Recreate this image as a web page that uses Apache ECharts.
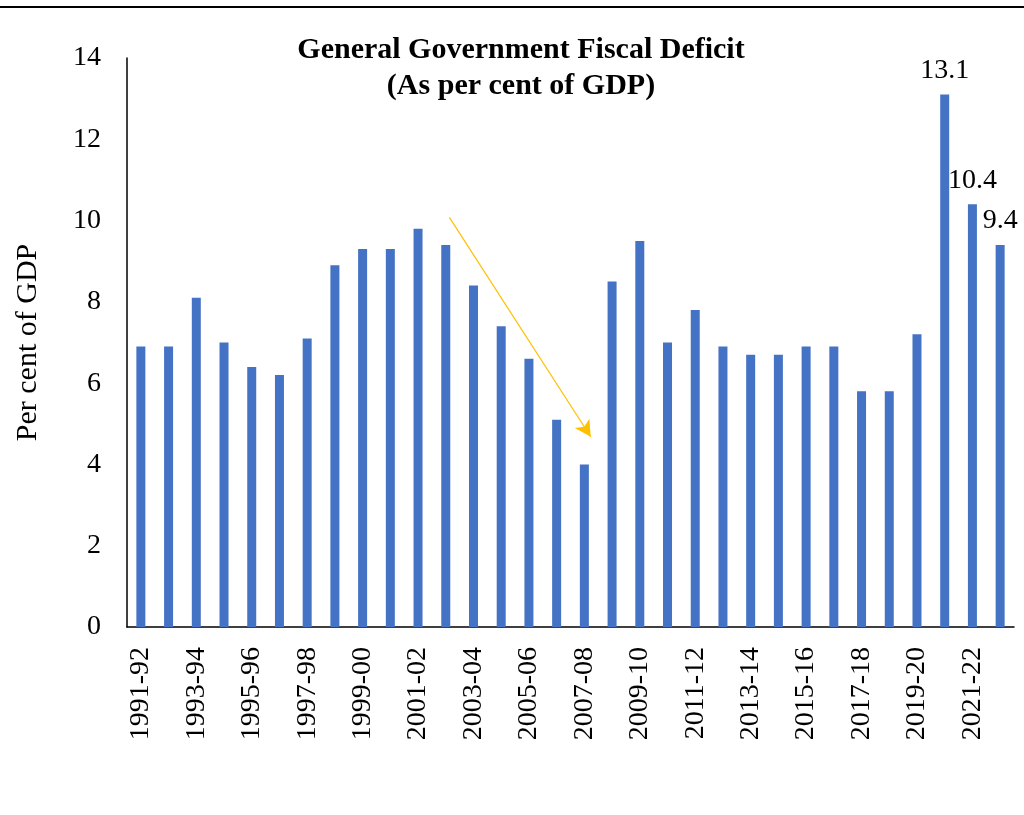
<!DOCTYPE html>
<html>
<head>
<meta charset="utf-8">
<script src="https://cdn.jsdelivr.net/npm/echarts@6/dist/echarts.min.js"></script>
<style>
  html, body { margin: 0; padding: 0; background: #fff; }
  #chart { width: 1024px; height: 815px; }
</style>
</head>
<body>
<div id="chart"></div>
<script>
// Fiscal years shown on the category axis
const years = [
  '1991-92','1992-93','1993-94','1994-95','1995-96','1996-97','1997-98','1998-99',
  '1999-00','2000-01','2001-02','2002-03','2003-04','2004-05','2005-06','2006-07',
  '2007-08','2008-09','2009-10','2010-11','2011-12','2012-13','2013-14','2014-15',
  '2015-16','2016-17','2017-18','2018-19','2019-20','2020-21','2021-22','2022-23'
];

// General government fiscal deficit, per cent of GDP
const deficit = [
  6.9, 6.9, 8.1, 7.0, 6.4, 6.2, 7.1, 8.9,
  9.3, 9.3, 9.8, 9.4, 8.4, 7.4, 6.6, 5.1,
  4.0, 8.5, 9.5, 7.0, 7.8, 6.9, 6.7, 6.7,
  6.9, 6.9, 5.8, 5.8, 7.2, 13.1, 10.4, 9.4
];

// Years whose value is written above the bar
const labelledYears = ['2020-21', '2021-22', '2022-23'];

// Value-axis ticks
const yTicks = [0, 2, 4, 6, 8, 10, 12, 14];

// Trend arrow, as (category position, value); category positions run 0..31
const arrowStart = [11.13, 10.08];
const arrowEnd = [16.23, 4.68];

const serif = '"Liberation Serif", "Times New Roman", serif';

const chart = echarts.init(document.getElementById('chart'), null, { renderer: 'canvas' });

const barData = deficit.map((v, i) => {
  const item = { value: v };
  if (labelledYears.includes(years[i])) {
    item.label = {
      show: true,
      position: 'top',
      offset: [0, -5],
      formatter: (p) => p.value.toFixed(1),
      fontFamily: serif,
      fontSize: 28,
      color: '#000'
    };
  }
  return item;
});

chart.setOption({
  animation: false,
  backgroundColor: '#fff',
  title: {
    text: 'General Government Fiscal Deficit\n(As per cent of GDP)',
    left: 516,
    textAlign: 'center',
    top: 27,
    textStyle: {
      fontFamily: serif,
      fontWeight: 'bold',
      fontSize: 30,
      lineHeight: 36,
      color: '#000'
    }
  },
  graphic: [{
    type: 'line',
    shape: { x1: 0, y1: 7, x2: 1024, y2: 7 },
    style: { stroke: '#000', lineWidth: 2 }
  }],
  grid: { left: 127, right: 10, top: 58, bottom: 188, containLabel: false },
  xAxis: [{
    type: 'category',
    data: years,
    axisLine: { lineStyle: { color: '#000', width: 1.5 } },
    axisTick: { show: false },
    axisLabel: {
      interval: 1,
      rotate: 90,
      margin: 20,
      fontFamily: serif,
      fontSize: 28,
      color: '#000'
    }
  }, {
    // hidden linear twin of the category axis, used to place the arrow
    type: 'value',
    show: false,
    min: -0.5,
    max: years.length - 0.5
  }],
  yAxis: {
    type: 'value',
    min: yTicks[0],
    max: yTicks[yTicks.length - 1],
    interval: yTicks[1] - yTicks[0],
    name: 'Per cent of GDP',
    nameLocation: 'middle',
    nameGap: 84,
    nameRotate: 90,
    nameTextStyle: { fontFamily: serif, fontSize: 30, color: '#000' },
    axisLine: { show: true, onZero: false, lineStyle: { color: '#000', width: 1.5 } },
    axisTick: { show: false },
    splitLine: { show: false },
    axisLabel: { margin: 26, fontFamily: serif, fontSize: 28, color: '#000' }
  },
  series: [{
    type: 'bar',
    data: barData,
    barWidth: 9,
    itemStyle: { color: '#4472C4' }
  }, {
    type: 'line',
    xAxisIndex: 1,
    data: [],
    silent: true,
    markLine: {
      silent: true,
      symbol: ['none', 'arrow'],
      symbolSize: [13, 16],
      label: { show: false },
      lineStyle: { color: '#FFC000', width: 1.2, type: 'solid' },
      data: [[
        { coord: arrowStart },
        { coord: arrowEnd }
      ]]
    }
  }]
});
</script>
</body>
</html>
